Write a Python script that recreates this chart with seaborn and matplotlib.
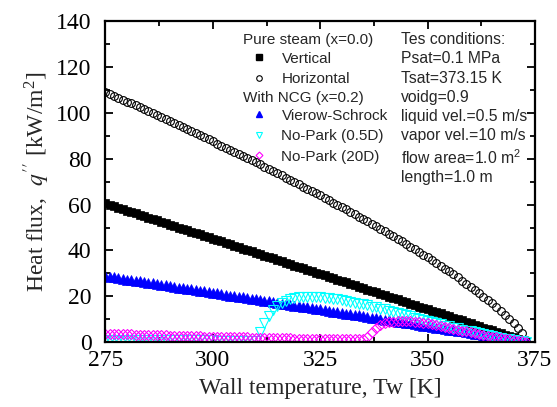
import numpy as np
import seaborn as sns
import matplotlib.pyplot as plt
from matplotlib.lines import Line2D
from matplotlib.ticker import MultipleLocator

sns.set_theme(style="ticks")
plt.rcParams["font.family"] = ["Liberation Serif", "DejaVu Serif"]
plt.rcParams["mathtext.fontset"] = "stix"

# wall temperature grid [K]
tw = np.arange(275, 374)

# pure steam (x=0.0)
q_vertical = [
    60.5, 59.9, 59.3, 58.7, 58.0, 57.4, 56.8, 56.2, 55.6, 55.0,
    54.3, 53.7, 53.1, 52.5, 51.9, 51.3, 50.6, 50.0, 49.4, 48.8,
    48.2, 47.6, 47.0, 46.3, 45.7, 45.1, 44.5, 43.9, 43.3, 42.6,
    42.0, 41.4, 40.8, 40.2, 39.6, 38.9, 38.3, 37.7, 37.1, 36.5,
    35.9, 35.2, 34.6, 34.0, 33.4, 32.8, 32.2, 31.5, 30.9, 30.3,
    29.7, 29.1, 28.5, 27.9, 27.2, 26.6, 26.0, 25.4, 24.8, 24.2,
    23.5, 22.9, 22.3, 21.7, 21.1, 20.5, 19.8, 19.2, 18.6, 18.0,
    17.4, 16.8, 16.1, 15.5, 14.9, 14.3, 13.7, 13.1, 12.5, 11.8,
    11.2, 10.6, 10.0, 9.4, 8.8, 8.1, 7.5, 6.9, 6.3, 5.7,
    5.1, 4.4, 3.8, 3.2, 2.6, 2.0, 1.4, 0.7, 0.1,
]
q_horizontal = [
    109.2, 108.4, 107.6, 106.7, 105.9, 105.0, 104.2, 103.4, 102.5, 101.7,
    100.8, 99.9, 99.1, 98.2, 97.4, 96.5, 95.6, 94.7, 93.9, 93.0,
    92.1, 91.2, 90.3, 89.4, 88.5, 87.6, 86.7, 85.8, 84.9, 84.0,
    83.1, 82.2, 81.2, 80.3, 79.4, 78.5, 77.6, 76.6, 75.7, 74.7,
    73.8, 72.8, 71.8, 70.9, 69.9, 68.9, 67.9, 66.9, 66.0, 65.0,
    64.0, 63.0, 62.0, 60.9, 59.9, 58.9, 57.9, 56.9, 55.8, 54.8,
    53.8, 52.7, 51.6, 50.6, 49.5, 48.4, 47.3, 46.2, 45.0, 43.9,
    42.8, 41.6, 40.5, 39.3, 38.2, 37.0, 35.8, 34.5, 33.3, 32.0,
    30.8, 29.5, 28.2, 26.8, 25.5, 24.2, 22.7, 21.3, 19.8, 18.4,
    16.9, 15.3, 13.7, 12.0, 10.2, 8.3, 6.2, 3.9, 0.8,
]

# with NCG (x=0.2)
q_vierow = [
    28.8, 28.5, 28.2, 27.9, 27.6, 27.3, 27.0, 26.8, 26.5, 26.2,
    25.9, 25.6, 25.3, 25.0, 24.7, 24.4, 24.1, 23.8, 23.5, 23.3,
    23.0, 22.7, 22.4, 22.1, 21.8, 21.5, 21.2, 20.9, 20.6, 20.3,
    20.0, 19.7, 19.5, 19.2, 18.9, 18.6, 18.3, 18.0, 17.7, 17.4,
    17.1, 16.8, 16.5, 16.2, 15.9, 15.7, 15.4, 15.1, 14.8, 14.5,
    14.2, 13.9, 13.6, 13.3, 13.0, 12.7, 12.4, 12.2, 11.9, 11.6,
    11.3, 11.0, 10.7, 10.4, 10.1, 9.8, 9.5, 9.2, 8.9, 8.7,
    8.4, 8.1, 7.8, 7.5, 7.2, 6.9, 6.6, 6.3, 6.0, 5.7,
    5.4, 5.1, 4.9, 4.6, 4.3, 4.0, 3.7, 3.4, 3.1, 2.8,
    2.5, 2.2, 1.9, 1.6, 1.4, 1.1, 0.8, 0.5, 0.2,
]
q_nopark_05d = [
    0.8, 0.8, 0.8, 0.8, 0.8, 0.8, 0.8, 0.8, 0.8, 0.8,
    0.8, 0.8, 0.8, 0.8, 0.8, 0.8, 0.7, 0.7, 0.7, 0.7,
    0.7, 0.7, 0.7, 0.7, 0.7, 0.7, 0.6, 0.6, 0.6, 0.6,
    0.6, 0.6, 0.6, 0.6, 0.6, 0.5, 4.5, 8.5, 11.5, 13.8,
    15.6, 17.0, 18.0, 18.7, 19.2, 19.5, 19.7, 19.8, 19.8, 19.7,
    19.6, 19.4, 19.2, 18.9, 18.6, 18.3, 18.0, 17.6, 17.2, 16.8,
    16.4, 16.0, 15.5, 15.1, 14.6, 14.2, 13.7, 13.2, 12.7, 12.2,
    11.7, 11.2, 10.7, 10.2, 9.7, 9.2, 8.7, 8.2, 7.7, 7.2,
    6.8, 6.3, 5.9, 5.4, 5.0, 4.6, 4.2, 3.8, 3.4, 3.0,
    2.6, 2.2, 1.9, 1.5, 1.2, 0.9, 0.6, 0.3, 0.1,
]
q_nopark_20d = [
    3.6, 3.5, 3.5, 3.4, 3.4, 3.3, 3.3, 3.2, 3.2, 3.1,
    3.1, 3.0, 3.0, 2.9, 2.9, 2.8, 2.8, 2.7, 2.7, 2.6,
    2.6, 2.5, 2.5, 2.4, 2.4, 2.3, 2.3, 2.2, 2.2, 2.1,
    2.1, 2.0, 2.0, 2.0, 1.9, 1.9, 1.8, 1.8, 1.8, 1.7,
    1.7, 1.6, 1.6, 1.6, 1.5, 1.5, 1.5, 1.4, 1.4, 1.4,
    1.3, 1.3, 1.3, 1.3, 1.2, 1.2, 1.2, 1.2, 1.1, 1.1,
    1.1, 2.0, 4.2, 6.0, 7.3, 8.1, 8.6, 8.9, 9.1, 9.2,
    9.2, 9.1, 8.9, 8.7, 8.4, 8.1, 7.8, 7.4, 7.0, 6.6,
    6.2, 5.8, 5.4, 5.0, 4.6, 4.3, 3.9, 3.5, 3.2, 2.8,
    2.4, 2.1, 1.7, 1.4, 1.1, 0.8, 0.5, 0.3, 0.1,
]

conditions = [
    "Tes conditions:",
    "Psat=0.1 MPa",
    "Tsat=373.15 K",
    "voidg=0.9",
    "liquid vel.=0.5 m/s",
    "vapor vel.=10 m/s",
    "flow area=1.0 m$^\\mathregular{2}$",
    "length=1.0 m",
]

fig = plt.figure(figsize=(5.57, 4.07), dpi=100)
ax = fig.add_axes([0.1894, 0.1597, 0.7711, 0.7875])

# series: marker, size, face, edge
sns.lineplot(x=tw, y=q_vertical, ax=ax, linestyle="none", marker="s",
             ms=6.4, mfc="black", mec="black", mew=0.5, color="black")
sns.lineplot(x=tw, y=q_horizontal, ax=ax, linestyle="none", marker="o",
             ms=5.6, mfc="none", mec="black", mew=0.8, color="black")
sns.lineplot(x=tw, y=q_vierow, ax=ax, linestyle="none", marker="^",
             ms=6.5, mfc="blue", mec="blue", mew=0.5, color="blue")
sns.lineplot(x=tw, y=q_nopark_05d, ax=ax, linestyle="none", marker="v",
             ms=6.5, mfc="none", mec="cyan", mew=0.8, color="cyan")
sns.lineplot(x=tw, y=q_nopark_20d, ax=ax, linestyle="none", marker="D",
             ms=4.8, mfc="none", mec="magenta", mew=0.8, color="magenta")

ax.set_xlim(275, 375)
ax.set_ylim(0, 140)
ax.xaxis.set_major_locator(MultipleLocator(25))
ax.xaxis.set_minor_locator(MultipleLocator(12.5))
ax.yaxis.set_major_locator(MultipleLocator(20))
ax.yaxis.set_minor_locator(MultipleLocator(10))
ax.tick_params(which="both", direction="in", top=True, right=True,
               labelsize=17, width=1.3, colors="black")
ax.tick_params(which="major", length=6)
ax.tick_params(which="minor", length=3.5)
ax.tick_params(axis="x", which="major", pad=6)
ax.tick_params(axis="y", which="major", pad=10)
for s in ax.spines.values():
    s.set_linewidth(1.6)
    s.set_color("black")

ax.set_xlabel("Wall temperature, Tw [K]", fontsize=17, labelpad=5)
ax.set_ylabel("Heat flux,  $q''$ [kW/m$^\\mathregular{2}$]", fontsize=17, labelpad=3)

# legend: two groups with headers
sans = ["Liberation Sans", "DejaVu Sans"]
ax.text(0.320, 0.942, "Pure steam (x=0.0)", transform=ax.transAxes,
        fontsize=11, family=sans, va="center", ha="left")
ax.text(0.320, 0.762, "With NCG (x=0.2)", transform=ax.transAxes,
        fontsize=11, family=sans, va="center", ha="left")

h1 = [
    Line2D([], [], ls="none", marker="s", ms=4, mfc="black", mec="black"),
    Line2D([], [], ls="none", marker="o", ms=4, mfc="none", mec="black", mew=0.8),
]
h2 = [
    Line2D([], [], ls="none", marker="^", ms=4.5, mfc="blue", mec="blue"),
    Line2D([], [], ls="none", marker="v", ms=4.5, mfc="none", mec="cyan", mew=0.8),
    Line2D([], [], ls="none", marker="D", ms=3.5, mfc="none", mec="magenta", mew=0.8),
]
leg_kw = dict(frameon=False, prop={"family": sans, "size": 11},
              handlelength=1.2, handletextpad=0.9, labelspacing=0.42,
              borderpad=0, borderaxespad=0, loc="upper left")
leg1 = ax.legend(h1, ["Vertical", "Horizontal"],
                 bbox_to_anchor=(0.335, 0.906), **leg_kw)
ax.add_artist(leg1)
ax.legend(h2, ["Vierow-Schrock", "No-Park (0.5D)", "No-Park (20D)"],
          bbox_to_anchor=(0.335, 0.728), **leg_kw)

ax.text(0.688, 0.966, "\n".join(conditions), transform=ax.transAxes,
        fontsize=11.3, family=sans, va="top", ha="left", linespacing=1.34)

fig.savefig("out.png", dpi=100)
